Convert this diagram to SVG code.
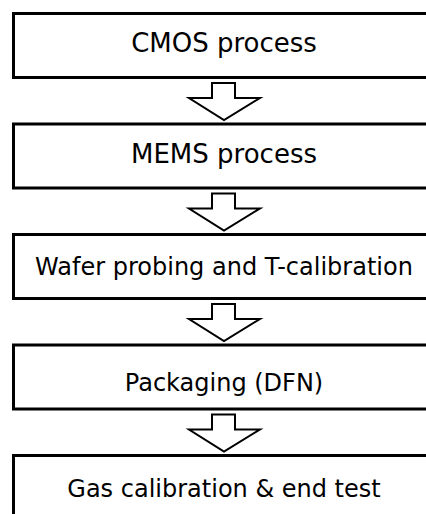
<svg xmlns="http://www.w3.org/2000/svg" width="426" height="514" viewBox="0 0 426 514">
<style>
.box{fill:#fff;stroke:#000;stroke-width:3}
.lbl{font-family:"DejaVu Sans","Liberation Sans",sans-serif;fill:#000;text-anchor:middle}
.arr{fill:#fff;stroke:#000;stroke-width:2;stroke-linejoin:miter}
</style>
<rect width="426" height="514" fill="#fff"/>
<g id="n1"><rect class="box" x="13.5" y="13.5" width="430" height="64"/><text class="lbl" x="224" y="52" font-size="26">CMOS process</text></g>
<g id="n2"><rect class="box" x="13.5" y="124" width="430" height="64"/><text class="lbl" x="224" y="163" font-size="26">MEMS process</text></g>
<g id="n3"><rect class="box" x="13.5" y="234.5" width="430" height="64"/><text class="lbl" x="224" y="275" font-size="24">Wafer probing and T-calibration</text></g>
<g id="n4"><rect class="box" x="13.5" y="345" width="430" height="64"/><text class="lbl" x="224" y="391" font-size="24">Packaging (DFN)</text></g>
<g id="n5"><rect class="box" x="13.5" y="455.5" width="430" height="70"/><text class="lbl" x="224" y="497" font-size="24">Gas calibration &amp; end test</text></g>
<g id="connectors">
<path class="arr" d="M212,83 H235 V98 H260 L224,120 L189,98 H212 Z"/>
<path class="arr" d="M212,193.5 H235 V208.5 H260 L224,230.5 L189,208.5 H212 Z"/>
<path class="arr" d="M212,304 H235 V319 H260 L224,341 L189,319 H212 Z"/>
<path class="arr" d="M212,414.5 H235 V429.5 H260 L224,451.5 L189,429.5 H212 Z"/>
</g>
</svg>
